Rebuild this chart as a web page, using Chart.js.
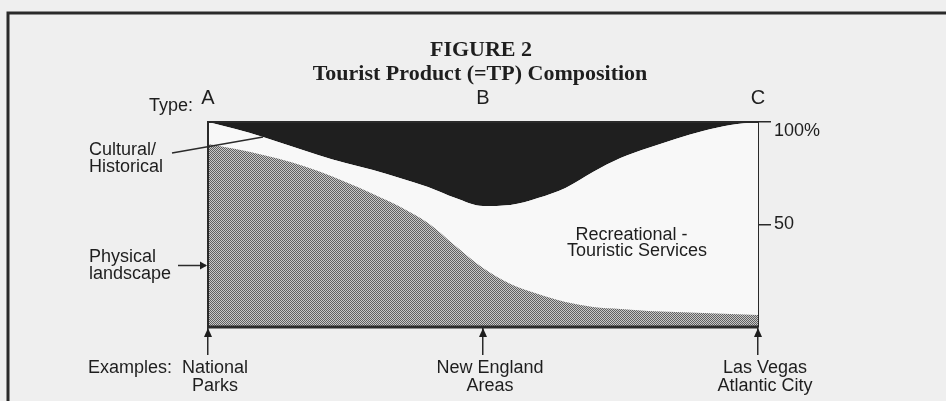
<!DOCTYPE html>
<html>
<head>
<meta charset="utf-8">
<title>Tourist Product (=TP) Composition</title>
<script src="https://cdn.jsdelivr.net/npm/chart.js@4.4.1/dist/chart.umd.min.js"></script>
<style>
  html, body { margin: 0; padding: 0; background: #efefef; }
  canvas { display: block; }
</style>
</head>
<body>
<canvas id="tpChart" width="946" height="401"></canvas>
<script>
// position along the A -> C range (percent of the way)
const xPos = [0, 5, 10, 15, 20, 25, 30, 35, 40, 45, 50, 55, 60, 65, 70, 75, 80, 85, 90, 95, 100];

// share of the tourist product (%), bottom to top
const physical     = [89.3, 86.8, 83.9, 80.5, 76.1, 70.7, 64.9, 58.5, 50.7, 39.5, 28.8, 21.0, 16.1, 12.2, 9.8, 8.8, 7.8, 7.3, 6.8, 6.3, 5.9];
const recreational = [10.7, 9.8, 8.8, 7.8, 7.8, 9.3, 11.7, 14.1, 17.6, 23.4, 30.2, 38.5, 46.8, 55.6, 65.8, 73.6, 79.5, 84.4, 88.8, 92.2, 94.1];
const cultural     = [0, 3.4, 7.3, 11.7, 16.1, 20.0, 23.4, 27.4, 31.7, 37.1, 41.0, 40.5, 37.1, 32.2, 24.4, 17.6, 12.7, 8.3, 4.4, 1.5, 0];

// axis ticks
const typeTicks = [0, 50, 100];
const typeLabels = ['A', 'B', 'C'];
const exampleLabels = [['National', 'Parks'], ['New England', 'Areas'], ['Las Vegas', 'Atlantic City']];
const shareTicks = [50, 100];
const shareLabels = ['50', ['', '100%']];

const INK = '#1e1e1e';
const SANS = '"Liberation Sans", Arial, sans-serif';
const SERIF = '"Liberation Serif", "Times New Roman", serif';

Chart.defaults.font.family = SANS;
Chart.defaults.color = INK;

// fine dot screen used for the physical landscape area
function dotPattern() {
    const c = document.createElement('canvas');
    c.width = 2;
    c.height = 2;
    const g = c.getContext('2d');
    g.fillStyle = '#c8c8c8';
    g.fillRect(0, 0, 2, 2);
    g.fillStyle = '#606060';
    g.fillRect(0, 0, 1, 1);
    g.fillRect(1, 1, 1, 1);
    return g.createPattern(c, 'repeat');
}

function toPoints(values) {
    return values.map((v, i) => ({ x: xPos[i], y: v }));
}

// labels, leader lines, frame
const annotations = {
    id: 'annotations',
    afterDraw(chart) {
        const ctx = chart.ctx;
        const area = chart.chartArea;
        const x = chart.scales.x;
        const y = chart.scales.y;

        ctx.save();
        ctx.strokeStyle = '#2a2a2a';
        ctx.fillStyle = INK;

        // page frame
        ctx.lineWidth = 3;
        ctx.beginPath();
        ctx.moveTo(8, 401);
        ctx.lineTo(8, 13);
        ctx.lineTo(946, 13);
        ctx.stroke();

        // plot box (right side is the y axis border)
        ctx.lineWidth = 2;
        ctx.beginPath();
        ctx.moveTo(area.left, area.bottom);
        ctx.lineTo(area.left, area.top);
        ctx.lineTo(area.right, area.top);
        ctx.stroke();
        ctx.lineWidth = 3;
        ctx.beginPath();
        ctx.moveTo(area.left - 1, area.bottom);
        ctx.lineTo(area.right, area.bottom);
        ctx.stroke();

        // up arrows under A, B, C
        typeTicks.forEach(v => {
            const px = x.getPixelForValue(v);
            ctx.beginPath();
            ctx.moveTo(px, area.bottom + 1);
            ctx.lineTo(px - 4, area.bottom + 10);
            ctx.lineTo(px + 4, area.bottom + 10);
            ctx.closePath();
            ctx.fill();
        });

        // titles
        const mid = (area.left + area.right) / 2;
        ctx.textAlign = 'center';
        ctx.textBaseline = 'middle';
        ctx.font = 'bold 22px ' + SERIF;
        ctx.fillText('FIGURE 2', mid - 2, 50);
        ctx.fillText('Tourist Product (=TP) Composition', mid - 3, 74);

        ctx.font = '18px ' + SANS;
        ctx.textAlign = 'right';
        ctx.fillText('Type:', area.left - 15, area.top - 16);

        ctx.textAlign = 'left';
        ctx.fillText('Cultural/', 89, 150);
        ctx.fillText('Historical', 89, 167);
        ctx.fillText('Physical', 89, 257);
        ctx.fillText('landscape', 89, 274);
        ctx.fillText('Examples:', 88, area.bottom + 41);

        ctx.textAlign = 'center';
        ctx.fillText('Recreational -', x.getPixelForValue(77), y.getPixelForValue(45));
        ctx.fillText('Touristic Services', x.getPixelForValue(78), y.getPixelForValue(37));

        // leader to the cultural/historical wedge
        ctx.lineWidth = 1.5;
        ctx.beginPath();
        ctx.moveTo(172, 153);
        ctx.lineTo(x.getPixelForValue(xPos[2]), y.getPixelForValue(100 - cultural[2]));
        ctx.stroke();

        // arrow to the physical landscape area
        const ay = y.getPixelForValue(30);
        ctx.beginPath();
        ctx.moveTo(178, ay);
        ctx.lineTo(area.left - 2, ay);
        ctx.stroke();
        ctx.beginPath();
        ctx.moveTo(area.left - 1, ay);
        ctx.lineTo(area.left - 8, ay - 4);
        ctx.lineTo(area.left - 8, ay + 4);
        ctx.closePath();
        ctx.fill();

        ctx.restore();
    }
};

new Chart(document.getElementById('tpChart').getContext('2d'), {
    type: 'line',
    data: {
        datasets: [{
            label: 'Physical landscape',
            data: toPoints(physical),
            backgroundColor: dotPattern(),
            borderWidth: 0,
            fill: 'origin'
        }, {
            label: 'Recreational - Touristic Services',
            data: toPoints(recreational),
            backgroundColor: '#f8f8f8',
            borderWidth: 0,
            fill: '-1'
        }, {
            label: 'Cultural/Historical',
            data: toPoints(cultural),
            backgroundColor: '#1f1f1f',
            borderWidth: 0,
            fill: '-1'
        }]
    },
    options: {
        responsive: false,
        animation: false,
        layout: { padding: { left: 208, top: 0, right: 0, bottom: 0 } },
        elements: {
            point: { radius: 0, hoverRadius: 0 },
            line: { cubicInterpolationMode: 'monotone' }
        },
        plugins: {
            legend: { display: false },
            tooltip: { enabled: false }
        },
        scales: {
            x: {
                type: 'linear',
                position: 'top',
                min: 0,
                max: 100,
                grid: { display: false },
                border: { display: false },
                afterBuildTicks: s => { s.ticks = typeTicks.map(v => ({ value: v })); },
                afterFit: s => { s.height = 122; },
                ticks: {
                    autoSkip: false,
                    maxRotation: 0,
                    padding: 4,
                    font: { size: 20 },
                    callback: (v, i) => typeLabels[i]
                }
            },
            x2: {
                type: 'linear',
                position: 'bottom',
                min: 0,
                max: 100,
                grid: { drawOnChartArea: false, tickLength: 28, color: '#2a2a2a', lineWidth: 1.5 },
                border: { display: false },
                afterBuildTicks: s => { s.ticks = typeTicks.map(v => ({ value: v })); },
                afterFit: s => { s.height = 74; },
                ticks: {
                    autoSkip: false,
                    maxRotation: 0,
                    padding: 4,
                    labelOffset: 7,
                    font: { size: 18, lineHeight: 1 },
                    callback: (v, i) => exampleLabels[i]
                }
            },
            y: {
                position: 'right',
                stacked: true,
                min: 0,
                max: 100,
                grid: { drawOnChartArea: false, tickLength: 13, color: '#2a2a2a', lineWidth: 1.5 },
                border: { display: true, color: '#2a2a2a', width: 2 },
                afterBuildTicks: s => { s.ticks = shareTicks.map(v => ({ value: v })); },
                afterFit: s => { s.width = 188; },
                ticks: {
                    padding: 3,
                    font: { size: 18, lineHeight: 1 },
                    callback: (v, i) => shareLabels[i]
                }
            }
        }
    },
    plugins: [annotations]
});
</script>
</body>
</html>
